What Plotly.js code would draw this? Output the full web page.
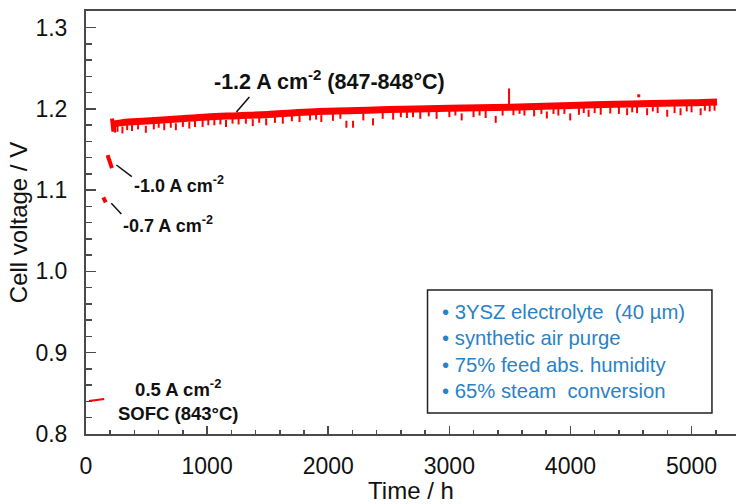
<!DOCTYPE html>
<html>
<head>
<meta charset="utf-8">
<script src="https://cdn.plot.ly/plotly-3.0.1.min.js"></script>
<style>html,body{margin:0;padding:0;background:#fff;}#chart{width:736px;height:504px;}</style>
</head>
<body>
<div id="chart"></div>
<script>
// ---- data ----
// -1.2 A cm-2 electrolysis run (band centre)
const mainT = [215, 300, 500, 750, 1000, 1250, 1500, 1750, 2000, 2500, 3000, 3500, 4000, 4500, 5000, 5210];
const mainV = [1.181, 1.183, 1.185, 1.1875, 1.190, 1.1915, 1.193, 1.1955, 1.197, 1.199, 1.2006, 1.202, 1.2042, 1.206, 1.2075, 1.2085];
// start strip of the -1.2 run
const startT = [215, 218, 222, 226, 230];
const startV = [1.188, 1.173, 1.186, 1.172, 1.184];
// downward excursions below the band
const dipT = [240, 260, 301, 340, 380, 430, 494, 560, 600, 646, 700, 742, 800, 853, 900, 963, 1010, 1060, 1110, 1156, 1210, 1260, 1320, 1377, 1430, 1488, 1560, 1625, 1700, 1763, 1850, 1900, 1943, 2039, 2100, 2150, 2205, 2290, 2370, 2450, 2536, 2600, 2650, 2700, 2760, 2830, 2895, 3000, 3050, 3102, 3200, 3250, 3300, 3383, 3440, 3529, 3580, 3620, 3700, 3760, 3805, 3860, 3900, 3950, 3998, 4070, 4110, 4150, 4200, 4250, 4329, 4400, 4468, 4510, 4550, 4633, 4680, 4720, 4799, 4860, 4909, 4960, 5000, 5075, 5110, 5150, 5190];
const dipV = [1.175, 1.176, 1.174, 1.178, 1.177, 1.179, 1.1748, 1.179, 1.181, 1.178, 1.181, 1.178, 1.182, 1.180, 1.182, 1.182, 1.184, 1.184, 1.185, 1.182, 1.186, 1.185, 1.186, 1.183, 1.187, 1.184, 1.187, 1.186, 1.189, 1.188, 1.190, 1.191, 1.188, 1.1895, 1.192, 1.181, 1.181, 1.190, 1.184, 1.192, 1.191, 1.194, 1.193, 1.194, 1.192, 1.195, 1.192, 1.194, 1.196, 1.190, 1.194, 1.196, 1.193, 1.187, 1.196, 1.1964, 1.198, 1.196, 1.195, 1.198, 1.1924, 1.198, 1.196, 1.198, 1.190, 1.197, 1.199, 1.1945, 1.199, 1.197, 1.1985, 1.198, 1.1964, 1.200, 1.199, 1.1964, 1.201, 1.199, 1.1945, 1.199, 1.1964, 1.201, 1.200, 1.1964, 1.202, 1.201, 1.202];
// single upward spike and stray point
const spikeT = [3493, 3493];
const spikeV = [1.203, 1.225];
const strayT = [4564];
const strayV = [1.216];
// -1.0 A cm-2 step
const stepAT = [178, 185, 192, 200, 208, 214];
const stepAV = [1.143, 1.140, 1.137, 1.134, 1.130, 1.127];
// -0.7 A cm-2 step
const stepBT = [143, 150, 158, 163];
const stepBV = [1.091, 1.089, 1.087, 1.085];
// 0.5 A cm-2 SOFC
const sofcT = [25, 60, 100, 150];
const sofcV = [0.8405, 0.841, 0.842, 0.843];

const xTicks = [0, 1000, 2000, 3000, 4000, 5000];
const yTicks = [0.8, 0.9, 1.0, 1.1, 1.2, 1.3];
const infoLines = ['3YSZ electrolyte  (40 µm)', 'synthetic air purge', '75% feed abs. humidity', '65% steam  conversion'];

const RED = '#ff0000';
const AX = '#4a4a4a';
const FONT = 'Arial, "Liberation Sans", sans-serif';

const traces = [
  {x: mainT, y: mainV, mode: 'lines', line: {color: RED, width: 7, shape: 'spline', smoothing: 1}, hoverinfo: 'skip'},
  {x: startT, y: startV, mode: 'lines', line: {color: RED, width: 4}, hoverinfo: 'skip'},
  {x: dipT, y: dipV, mode: 'markers', marker: {symbol: 'line-ns-open', size: 5, color: RED, line: {color: RED, width: 2}}, hoverinfo: 'skip'},
  {x: spikeT, y: spikeV, mode: 'lines', line: {color: RED, width: 2}, hoverinfo: 'skip'},
  {x: strayT, y: strayV, mode: 'markers', marker: {symbol: 'square', size: 3, color: RED}, hoverinfo: 'skip'},
  {x: stepAT, y: stepAV, mode: 'lines', line: {color: RED, width: 4}, hoverinfo: 'skip'},
  {x: stepBT, y: stepBV, mode: 'lines', line: {color: RED, width: 4}, hoverinfo: 'skip'},
  {x: sofcT, y: sofcV, mode: 'lines', line: {color: RED, width: 2}, hoverinfo: 'skip'}
];

const bold = {family: FONT, size: 18, color: '#111'};
const layout = {
  width: 736, height: 504,
  margin: {l: 86, r: 0, t: 11, b: 70},
  paper_bgcolor: '#fff', plot_bgcolor: '#fff',
  showlegend: false,
  font: {family: FONT, color: '#111'},
  xaxis: {
    range: [0, 5367], tickvals: xTicks, ticktext: xTicks.map(String),
    ticks: 'inside', ticklen: 8, tickwidth: 1.5, tickcolor: AX,
    minor: {dtick: 200, ticks: 'inside', ticklen: 4, tickwidth: 1.5, tickcolor: AX},
    showline: true, linecolor: AX, linewidth: 2, mirror: true,
    showgrid: false, zeroline: false,
    tickfont: {family: FONT, size: 23, color: '#111'},
    ticklabelstandoff: 10,
    title: {text: 'Time / h', font: {family: FONT, size: 24, color: '#111'}, standoff: 4}
  },
  yaxis: {
    range: [0.8, 1.3203], tickvals: yTicks, ticktext: yTicks.map(v => v.toFixed(1)),
    ticks: 'inside', ticklen: 10, tickwidth: 1.5, tickcolor: AX,
    minor: {dtick: 0.02, ticks: 'inside', ticklen: 6, tickwidth: 1.5, tickcolor: AX},
    showline: true, linecolor: AX, linewidth: 2, mirror: false,
    showgrid: false, zeroline: false,
    tickfont: {family: FONT, size: 23, color: '#111'},
    ticklabelstandoff: 12,
    title: {text: 'Cell voltage / V', font: {family: FONT, size: 24, color: '#111'}, standoff: 1}
  },
  shapes: [
    {type: 'line', xref: 'x', yref: 'y', x0: 1349, y0: 1.2145, x1: 1242, y1: 1.196, line: {color: '#111', width: 1.5}},
    {type: 'line', xref: 'x', yref: 'y', x0: 251, y0: 1.1309, x1: 378, y1: 1.1166, line: {color: '#111', width: 1.5}},
    {type: 'line', xref: 'x', yref: 'y', x0: 209, y0: 1.0838, x1: 292, y1: 1.0706, line: {color: '#111', width: 1.5}},
    {type: 'rect', xref: 'paper', yref: 'paper', x0: 0.5254, x1: 0.963, y0: 0.0496, y1: 0.3404, line: {color: '#222', width: 1.5}, fillcolor: 'rgba(0,0,0,0)'}
  ],
  annotations: [
    {xref: 'x', yref: 'y', x: 1043, y: 1.235, xanchor: 'left', yanchor: 'middle', showarrow: false,
     text: '<b>-1.2 A cm<sup>-2</sup> (847-848°C)</b>', font: {family: FONT, size: 21.5, color: '#111'}},
    {xref: 'x', yref: 'y', x: 381, y: 1.1075, xanchor: 'left', yanchor: 'middle', showarrow: false,
     text: '<b>-1.0 A cm<sup>-2</sup></b>', font: bold},
    {xref: 'x', yref: 'y', x: 290, y: 1.0583, xanchor: 'left', yanchor: 'middle', showarrow: false,
     text: '<b>-0.7 A cm<sup>-2</sup></b>', font: bold},
    {xref: 'x', yref: 'y', x: 762, y: 0.8424, xanchor: 'center', yanchor: 'middle', showarrow: false, align: 'center',
     text: '<b>0.5 A cm<sup>-2</sup><br>SOFC (843°C)</b>', font: {family: FONT, size: 18.5, color: '#111'}},
    {xref: 'paper', yref: 'paper', x: 0.5439, y: 0.1955, xanchor: 'left', yanchor: 'middle', showarrow: false, align: 'left',
     text: infoLines.map(s => '• ' + s).join('<br>'), font: {family: FONT, size: 20.3, color: '#2a82c6'}}
  ]
};

Plotly.newPlot('chart', traces, layout, {displayModeBar: false, staticPlot: true});
</script>
</body>
</html>
